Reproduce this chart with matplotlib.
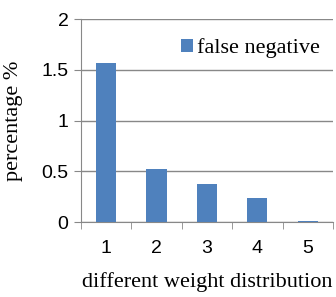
import numpy as np
import matplotlib
matplotlib.use("Agg")
import matplotlib.pyplot as plt

# data
categories = ["1", "2", "3", "4", "5"]
false_negative = [1.57, 0.52, 0.37, 0.24, 0.01]
yticks = [0, 0.5, 1, 1.5, 2]
ytick_labels = ["0", "0.5", "1", "1.5", "2"]

fig = plt.figure(figsize=(3.36, 2.97), dpi=100)
ax = fig.add_axes([0.241, 0.2525, 0.75, 0.6835])

x = np.arange(len(categories))
ax.bar(x, false_negative, width=0.4, color="#4F81BD", label="false negative", zorder=3)

ax.set_xlim(-0.5, len(categories) - 0.5)
ax.set_ylim(0, 2)
ax.set_yticks(yticks)
ax.set_yticklabels(ytick_labels, fontfamily="Liberation Sans", fontsize=14)
ax.set_xticks(x)
ax.set_xticklabels(categories, fontfamily="Liberation Sans", fontsize=14)
ax.set_xticks(np.arange(len(categories) + 1) - 0.5, minor=True)
ax.tick_params(axis="x", which="major", length=0, pad=13)
ax.tick_params(axis="x", which="minor", length=5, color="#888888", direction="out")
ax.tick_params(axis="y", length=5, color="#888888", direction="out", pad=4)

ax.grid(axis="y", color="#888888", linewidth=1, zorder=0)
for s in ["top", "right"]:
    ax.spines[s].set_visible(False)
ax.spines["left"].set_color("#888888")
ax.spines["bottom"].set_color("#888888")

ax.set_ylabel("percentage %", fontfamily="Liberation Serif", fontsize=16, labelpad=13)
ax.set_xlabel("different weight distribution", fontfamily="Liberation Serif", fontsize=16, labelpad=11)

ax.legend(loc="upper right", frameon=False, prop={"family": "Liberation Serif", "size": 16},
          handlelength=0.55, handleheight=0.55, handletextpad=0.15, borderaxespad=0.2,
          bbox_to_anchor=(1.0, 0.97))

fig.savefig("out.png", dpi=100)
